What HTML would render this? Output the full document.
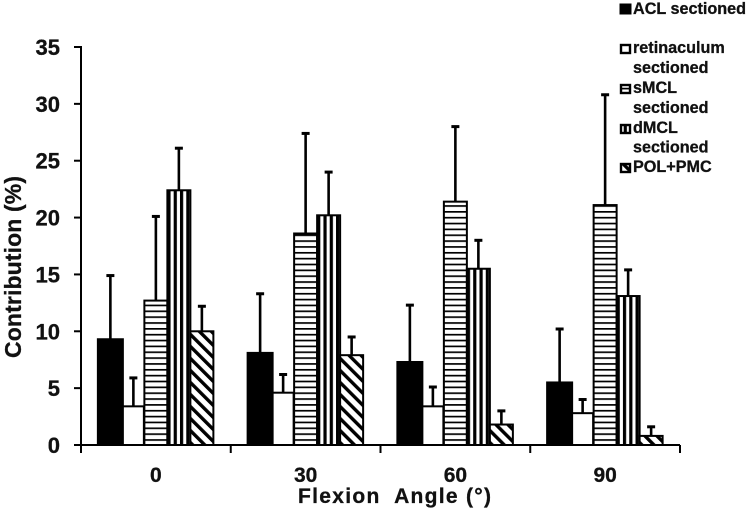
<!DOCTYPE html>
<html lang="en">
<head>
<meta charset="utf-8">
<title>Contribution by flexion angle</title>
<style>
html,body{margin:0;padding:0;background:#fff;width:749px;height:512px;overflow:hidden}
svg{display:block}
text{font-family:"Liberation Sans",sans-serif;font-weight:bold;fill:#111;stroke:#111;stroke-width:0.3px}
</style>
</head>
<body>
<svg id="chart" xmlns="http://www.w3.org/2000/svg" width="749" height="512" viewBox="0 0 749 512">
<defs>
<pattern id="p-horizontal" patternUnits="userSpaceOnUse" width="6" height="5.85">
<rect width="6" height="5.85" fill="#fff"/><rect y="0" width="6" height="1.7" fill="#000"/>
</pattern>
<pattern id="p-vertical" patternUnits="userSpaceOnUse" width="6.3" height="6">
<rect width="6.3" height="6" fill="#fff"/><rect x="0" width="3.2" height="6" fill="#000"/>
</pattern>
<pattern id="p-diagonal" patternUnits="userSpaceOnUse" width="8.5" height="8.5" patternTransform="rotate(-45)">
<rect width="8.5" height="8.5" fill="#fff"/><rect x="0" width="3.4" height="8.5" fill="#000"/>
</pattern>
</defs>
<g id="bars"></g>
<g id="axes"></g>
<text transform="translate(21 358) rotate(-90)" font-size="23" textLength="182">Contribution (%)</text>
<text x="298" y="503" font-size="21" textLength="193" style="white-space:pre" xml:space="preserve">Flexion  Angle (°)</text>
<g font-size="16.2">
<g>
<rect x="620" y="4" width="11" height="10" fill="#000" stroke="#000" stroke-width="1"/>
<text x="633" y="14">ACL sectioned</text>
</g>
<g>
<rect x="621" y="45" width="9" height="8" fill="#fff" stroke="#000" stroke-width="2.4"/>
<text x="633" y="53">retinaculum</text>
<text x="633" y="73">sectioned</text>
</g>
<g>
<rect x="621" y="85" width="9" height="8" fill="url(#p-horizontal)" stroke="#000" stroke-width="2.4"/>
<text x="633" y="93">sMCL</text>
<text x="633" y="113">sectioned</text>
</g>
<g>
<rect x="621" y="125" width="9" height="8" fill="url(#p-vertical)" stroke="#000" stroke-width="2.4"/>
<text x="633" y="133">dMCL</text>
<text x="633" y="152.5">sectioned</text>
</g>
<g>
<rect x="621" y="164" width="9" height="8" fill="url(#p-diagonal)" stroke="#000" stroke-width="2.4"/>
<text x="633" y="172">POL+PMC</text>
</g>
</g>
</svg>
<script>
const categories = ['0', '30', '60', '90'];
const yTicks = [0, 5, 10, 15, 20, 25, 30, 35];
const aclValues = [9.3, 8.1, 7.3, 5.5];
const retinaculumValues = [3.4, 4.6, 3.4, 2.8];
const smclValues = [12.7, 18.6, 21.4, 21.1];
const dmclValues = [22.4, 20.2, 15.5, 13.1];
const polPmcValues = [10.0, 7.9, 1.8, 0.8];
const aclErrors = [5.6, 5.2, 5.0, 4.7];
const retinaculumErrors = [2.5, 1.6, 1.7, 1.2];
const smclErrors = [7.4, 8.8, 6.6, 9.7];
const dmclErrors = [3.7, 3.8, 2.5, 2.3];
const polPmcErrors = [2.2, 1.6, 1.2, 0.8];

const NS = 'http://www.w3.org/2000/svg';
const plotLeft = 81, plotRight = 680, baseY = 445, topY = 47, yMax = 35;
function yScale(v) { return baseY - (v / yMax) * (baseY - topY); }
function bandLeft(i) { return plotLeft + i * (plotRight - plotLeft) / categories.length; }
function bandCenter(i) { return bandLeft(i) + (plotRight - plotLeft) / categories.length / 2; }
function make(tag, attrs, parent) {
  const el = document.createElementNS(NS, tag);
  for (const k in attrs) el.setAttribute(k, attrs[k]);
  parent.appendChild(el);
  return el;
}
const seriesList = [
  { key: 'acl', values: aclValues, errors: aclErrors, fill: '#000', offset: -58, width: 25 },
  { key: 'retinaculum', values: retinaculumValues, errors: retinaculumErrors, fill: '#fff', offset: -33, width: 21 },
  { key: 'smcl', values: smclValues, errors: smclErrors, fill: 'url(#p-horizontal)', offset: -11.5, width: 23 },
  { key: 'dmcl', values: dmclValues, errors: dmclErrors, fill: 'url(#p-vertical)', offset: 11.5, width: 23 },
  { key: 'pol-pmc', values: polPmcValues, errors: polPmcErrors, fill: 'url(#p-diagonal)', offset: 34.5, width: 23 }
];
const barsGroup = document.getElementById('bars');
const axesGroup = document.getElementById('axes');
seriesList.forEach(function (s) {
  s.values.forEach(function (v, i) {
    const left = bandCenter(i) + s.offset;
    const mid = left + s.width / 2;
    const y = yScale(v);
    const yErr = yScale(v + s.errors[i]);
    const stem = make('line', { x1: mid, x2: mid, y1: y, y2: yErr, stroke: '#000', 'stroke-width': 2.6 }, barsGroup);
    
    
    const cap = make('line', { x1: mid - 4, x2: mid + 4, y1: yErr, y2: yErr, stroke: '#000', 'stroke-width': 3 }, barsGroup);
    
    
    const bar = make('rect', { x: 0, y: y - baseY, width: s.width, height: baseY - y, fill: s.fill, stroke: '#000', 'stroke-width': 2, transform: 'translate(' + left + ' ' + baseY + ')' }, barsGroup);
    
    
  });
});
const yLine = make('line', { x1: plotLeft, x2: plotLeft, y1: topY - 1, y2: baseY + 1, stroke: '#000', 'stroke-width': 2 }, axesGroup);


const xLine = make('line', { x1: plotLeft, x2: plotRight, y1: baseY, y2: baseY, stroke: '#000', 'stroke-width': 2 }, axesGroup);


yTicks.forEach(function (t) {
  const y = yScale(t);
  const tick = make('line', { x1: plotLeft - 7, x2: plotLeft, y1: y, y2: y, stroke: '#000', 'stroke-width': 2 }, axesGroup);
  
  
  const label = make('text', { x: 60, y: y + 8, 'text-anchor': 'end', 'font-size': 22 }, axesGroup);
  label.textContent = t;
  
  
});
for (let i = 0; i <= categories.length; i++) {
  const x = bandLeft(i);
  const tick = make('line', { x1: x, x2: x, y1: baseY, y2: baseY + 8, stroke: '#000', 'stroke-width': 2 }, axesGroup);
  
  
}
categories.forEach(function (c, i) {
  const label = make('text', { x: bandCenter(i), y: 482, 'text-anchor': 'middle', 'font-size': 21 }, axesGroup);
  label.textContent = c;
  
  
});
</script>
</body>
</html>
